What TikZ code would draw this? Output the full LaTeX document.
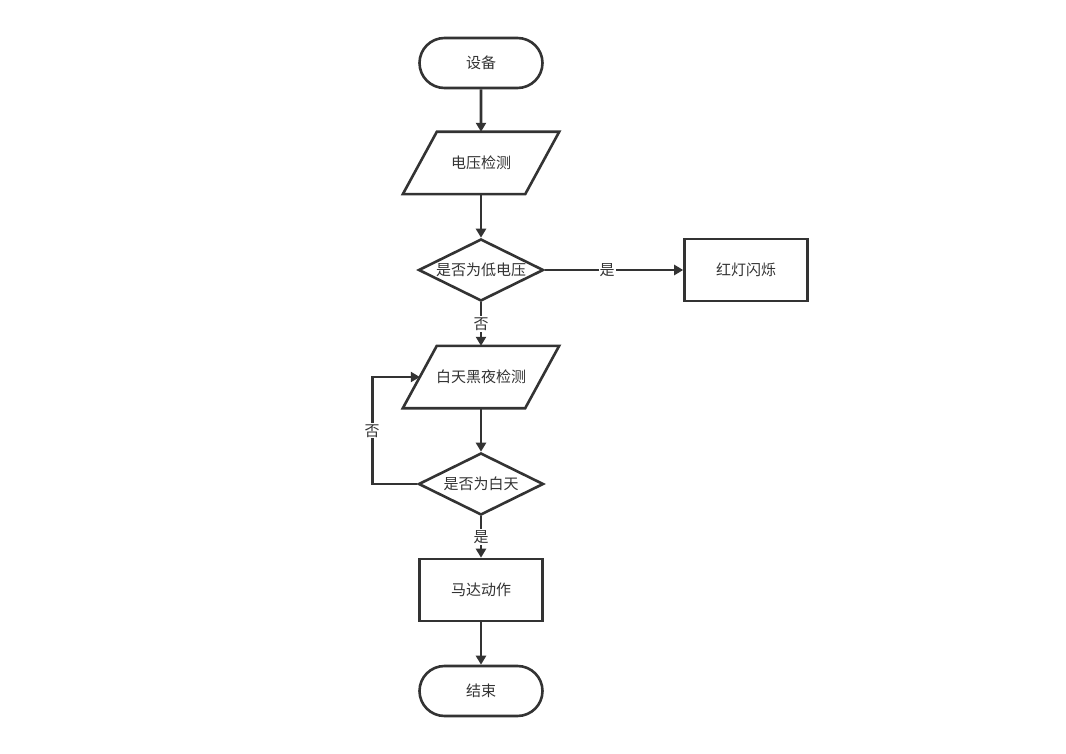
\documentclass[tikz,border=0pt]{standalone}
\usepackage{fontspec}
\setmainfont{Noto Sans CJK SC}
\usetikzlibrary{arrows.meta,shapes.geometric,shapes.misc,calc}
\definecolor{linec}{HTML}{333333}
\begin{document}
\begin{tikzpicture}[x=1pt,y=-1pt,
  every node/.style={font=\fontsize{15}{18}\selectfont, text=linec},
  txt/.style={text height=1.27em, text depth=0.1em},
  term/.style={txt, rounded rectangle, draw=linec, line width=2.6pt, minimum width=123pt, minimum height=50pt, inner sep=0pt},
  proc/.style={txt, rectangle, draw=linec, line width=2.6pt, minimum width=123pt, minimum height=62pt, inner sep=0pt},
  para/.style={txt, rectangle, minimum width=122pt, minimum height=62pt, inner sep=0pt},
  dec/.style={diamond, draw=linec, line width=2.6pt, minimum width=125pt, minimum height=62pt, inner sep=0pt},
  dlab/.style={txt, inner sep=0pt},
  arr/.style={draw=linec, line width=2.6pt, -{Triangle[length=9pt,width=10pt]}},
  elab/.style={txt, fill=white, inner sep=1pt}
]
\useasboundingbox (0,0) rectangle (1066,754);

\node[term] (start) at (481,63) {设备};
\node[para] (p1) at (481,163) {电压检测};
\node[dec, label={[dlab]center:是否为低电压}] (d1) at (481,270) {};
\node[proc] (red) at (746,270) {红灯闪烁};
\node[para] (p2) at (481,377) {白天黑夜检测};
\node[dec, label={[dlab]center:是否为白天}] (d2) at (481,484) {};
\node[proc] (motor) at (481,590) {马达动作};
\node[term] (end) at (481,691) {结束};

\foreach \p in {p1,p2}{
  \draw[draw=linec, line width=2.6pt, line join=miter]
    ($(\p.north west)+(17,0)$) -- ($(\p.north east)+(17,0)$)
    -- ($(\p.south east)+(-17,0)$) -- ($(\p.south west)+(-17,0)$) -- cycle;
}

\draw[arr] (start) -- (p1);
\draw[arr] (p1) -- (d1);
\draw[arr] (d1) -- node[elab, pos=0.45] {是} (red);
\draw[arr] (d1) -- node[elab] {否} (p2);
\draw[arr] (p2) -- (d2);
\draw[arr] (d2.west) -- ++(-45,0) |- node[elab, pos=0.25] {否} (p2.west);
\draw[arr] (d2) -- node[elab] {是} (motor);
\draw[arr] (motor) -- (end);
\end{tikzpicture}
\end{document}
